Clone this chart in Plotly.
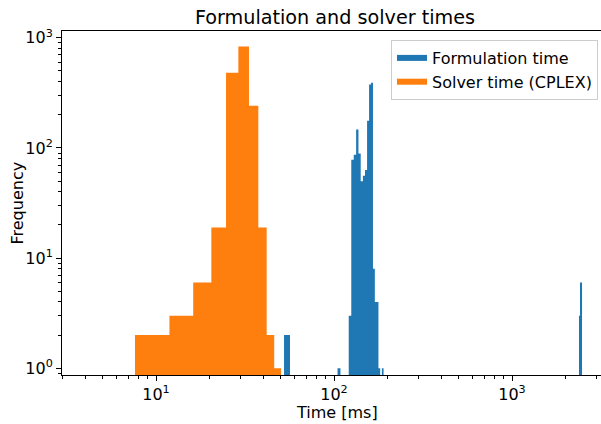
import plotly.graph_objects as go

# ---------------- data ----------------
# Solver time (CPLEX): 10 equal-width bins (ms) and their counts
solver_edges = [7.62, 11.90, 16.18, 20.46, 24.74, 29.02, 33.30, 37.58, 41.86, 46.14, 50.42]
solver_counts = [2, 3, 6, 19, 481, 834, 242, 19, 2, 1]

# Formulation time: non-empty bins (left edge, right edge in ms) and counts
form_left = [52.4, 104.7, 121.0, 125.05, 129.1, 133.15, 137.2, 141.25, 145.3, 149.35,
             153.4, 157.45, 161.5, 165.55, 169.6, 173.65, 177.7, 185.8, 2378, 2410]
form_right = [56.6, 108.7, 125.05, 129.1, 133.15, 137.2, 141.25, 145.3, 149.35, 153.4,
              157.45, 161.5, 165.55, 169.6, 173.65, 177.7, 181.75, 189.85, 2410, 2474]
form_counts = [2, 1, 3, 78, 87, 147, 89, 50, 56, 63,
               177, 376, 392, 8, 4, 4, 1, 1, 3, 6]

x_tick_vals = [10, 100, 1000]
x_tick_text = ["10<sup>1</sup>", "10<sup>2</sup>", "10<sup>3</sup>"]
y_tick_vals = [1, 10, 100, 1000]
y_tick_text = ["10<sup>0</sup>", "10<sup>1</sup>", "10<sup>2</sup>", "10<sup>3</sup>"]

BLUE = "#1f77b4"
ORANGE = "#ff7f0e"
FLOOR = 0.5  # bars start below the visible y range (log axis)


def bars_to_polygons(lefts, rights, counts):
    xs, ys = [], []
    for l, r, c in zip(lefts, rights, counts):
        xs += [l, l, r, r, l, None]
        ys += [FLOOR, c, c, FLOOR, FLOOR, None]
    return xs, ys


fx, fy = bars_to_polygons(form_left, form_right, form_counts)
sx, sy = bars_to_polygons(solver_edges[:-1], solver_edges[1:], solver_counts)

fig = go.Figure()
fig.add_trace(go.Scatter(x=fx, y=fy, mode="none", fill="toself", fillcolor=BLUE,
                         name="Formulation time", hoverinfo="skip"))
fig.add_trace(go.Scatter(x=sx, y=sy, mode="none", fill="toself", fillcolor=ORANGE,
                         name="Solver time (CPLEX)", hoverinfo="skip"))

FONT = "DejaVu Sans, Arial, sans-serif"
FS = 16

x_minor = [m * 10 ** k for k in range(0, 4) for m in range(2, 10) if 2.9 < m * 10 ** k < 3200]
y_minor = [m * 10 ** k for k in range(-1, 3) for m in range(2, 10) if 0.85 < m * 10 ** k < 1200]

fig.update_layout(
    width=601, height=424,
    margin=dict(l=62, r=0, t=31, b=49),
    paper_bgcolor="white", plot_bgcolor="white",
    font=dict(family=FONT, size=FS, color="black"),
    title=dict(text="Formulation and solver times", x=335 / 601, xref="container",
               xanchor="center", y=1 - 17 / 424, yref="container", yanchor="middle",
               font=dict(size=19.2, color="black", family=FONT)),
    showlegend=True,
    legend=dict(x=(598 - 62) / 539, xanchor="right", y=(375 - 40) / 344, yanchor="top",
                bgcolor="rgba(255,255,255,0.8)", bordercolor="#cccccc", borderwidth=1,
                font=dict(size=FS, family=FONT, color="black")),
    xaxis=dict(type="log", range=[0.4719, 3.5], showgrid=False, zeroline=False,
               showline=True, linecolor="black", linewidth=1, mirror=True,
               ticks="outside", ticklen=5, tickwidth=1, tickcolor="black",
               tickvals=x_tick_vals, ticktext=x_tick_text,
               minor=dict(ticks="outside", ticklen=3, tickwidth=1, tickcolor="black",
                          tickvals=x_minor, showgrid=False)),
    yaxis=dict(type="log", range=[-0.061, 3.062], showgrid=False, zeroline=False,
               showline=True, linecolor="black", linewidth=1, mirror=False,
               ticks="outside", ticklen=5, tickwidth=1, tickcolor="black",
               tickvals=y_tick_vals, ticktext=y_tick_text,
               minor=dict(ticks="outside", ticklen=3, tickwidth=1, tickcolor="black",
                          tickvals=y_minor, showgrid=False)),
    annotations=[
        dict(text="Time [ms]", xref="paper", yref="paper", x=(337 - 62) / 539,
             y=(375 - 412) / 344, xanchor="center", yanchor="middle", showarrow=False,
             font=dict(size=FS, family=FONT, color="black")),
        dict(text="Frequency", xref="paper", yref="paper", x=(16.5 - 62) / 539,
             y=0.5, xanchor="center", yanchor="middle", textangle=-90, showarrow=False,
             font=dict(size=FS, family=FONT, color="black")),
    ],
)

fig.write_html("out.html")
